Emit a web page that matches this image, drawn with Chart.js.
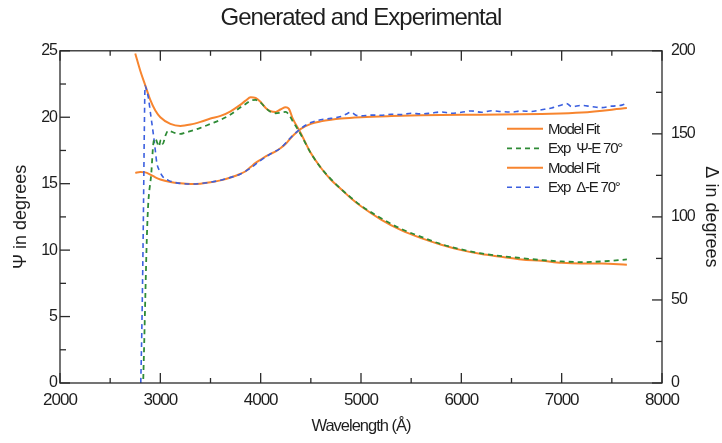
<!DOCTYPE html>
<html>
<head>
<meta charset="utf-8">
<script src="https://cdn.jsdelivr.net/npm/chart.js@4.4.0/dist/chart.umd.min.js"></script>
<style>
  html, body { margin: 0; padding: 0; background: #fff; }
</style>
</head>
<body>
<canvas id="graficoElipsometria" width="722" height="443"></canvas>
<script>
// ------------------------------------------------ DATOS ------------------------------------------------

    // Psi - modelo
    const psiFitWl = [2750, 2800, 2850, 2900, 2950, 3000, 3100, 3200, 3300, 3400, 3500, 3600, 3700, 3800, 3850,
        3900, 3950, 4000, 4050, 4100, 4150, 4200, 4250, 4280, 4320, 4400, 4500, 4600, 4700, 4800,
        4900, 5000, 5200, 5400, 5600, 5800, 6000, 6200, 6400, 6600, 6800, 7000, 7200, 7400, 7650];
    const psiFit = [24.8, 23.5, 22.4, 21.3, 20.5, 20.0, 19.5, 19.35, 19.45, 19.65, 19.9, 20.1, 20.45, 20.95, 21.25,
        21.5, 21.45, 21.15, 20.7, 20.45, 20.4, 20.6, 20.75, 20.65, 19.9, 18.8, 17.3, 16.2, 15.3, 14.6,
        13.9, 13.3, 12.3, 11.5, 10.9, 10.4, 10.0, 9.7, 9.5, 9.3, 9.2, 9.05, 9.0, 9.0, 8.9];

    // Psi - experimental
    const psiExpWl = [2830, 2840, 2852, 2865, 2878, 2910, 2930, 2950, 2968, 2985, 3005, 3025, 3050, 3080, 3100,
        3150, 3200, 3250, 3300, 3400, 3500, 3600, 3700, 3800, 3850, 3900, 3950, 4000, 4050, 4100,
        4150, 4200, 4250, 4280, 4320, 4400, 4500, 4600, 4700, 4800, 4900, 5000, 5200, 5400, 5600,
        5800, 6000, 6200, 6400, 6600, 6800, 7000, 7200, 7400, 7650];
    const psiExp = [0.3, 3.2, 7.0, 10.8, 13.3, 15.8, 18.0, 18.4, 18.1, 17.8, 18.3, 18.0, 18.6, 19.0, 18.95,
        18.8, 18.75, 18.85, 18.95, 19.2, 19.5, 19.8, 20.2, 20.75, 21.0, 21.25, 21.3, 21.1, 20.7, 20.4,
        20.3, 20.35, 20.4, 20.2, 19.7, 18.7, 17.3, 16.2, 15.35, 14.6, 13.95, 13.35, 12.4, 11.6, 11.0,
        10.45, 10.05, 9.75, 9.55, 9.4, 9.25, 9.15, 9.1, 9.15, 9.3];

    // Delta - modelo
    const deltaFitWl = [2750, 2800, 2850, 2900, 2950, 3000, 3100, 3200, 3300, 3400, 3500, 3600, 3700, 3800, 3850,
        3900, 3950, 4000, 4050, 4100, 4150, 4200, 4250, 4300, 4350, 4400, 4500, 4600, 4700, 4800,
        5000, 5300, 5600, 6000, 6400, 6800, 7200, 7650];
    const deltaFit = [126.5, 127, 126.8, 125.5, 123.8, 122.5, 121, 120.2, 119.8, 120.0, 120.8, 122.0, 123.7, 126, 127.5,
        130, 132.5, 134.5, 136.5, 138, 139.5, 141.5, 144, 147.5, 150.5, 153, 156, 157.5, 158.5, 159.2,
        160, 160.7, 161.2, 161.5, 161.6, 162.0, 162.8, 165.5];

    // Delta - experimental
    const deltaExpWl = [2805, 2815, 2825, 2833, 2840, 2848, 2860, 2880, 2905, 2930, 2950, 2965, 2990, 3027, 3080,
        3127, 3200, 3300, 3400, 3500, 3600, 3700, 3800, 3900, 4000, 4100, 4200, 4300, 4400, 4500,
        4600, 4700, 4800, 4850, 4900, 4950, 5000, 5100, 5200, 5300, 5400, 5500, 5600, 5700, 5800,
        5900, 6000, 6100, 6200, 6300, 6400, 6500, 6600, 6700, 6800, 6900, 7000, 7050, 7100, 7200,
        7300, 7400, 7500, 7600, 7650];
    const deltaExp = [0, 30, 70, 110, 150, 179, 177, 172, 161, 150, 140, 132.5, 128, 124, 122,
        121, 120.2, 119.8, 120.1, 120.9, 122.1, 123.8, 125.8, 129.5, 134, 138, 141.5, 147.8, 153.2, 156.8,
        158.5, 159.3, 160.4, 161.8, 163, 161.2, 160.8, 161.3, 161.2, 161.8, 161.6, 162.4, 162.0, 162.5, 163.2,
        162.4, 163, 163.8, 163, 163.9, 163.4, 163.1, 163.8, 163.5, 164.5, 165.6, 167.4, 168.2, 166.4, 167.1,
        166.4, 165.8, 166.7, 167.3, 168.5];

    const etiquetas = ['Model Fit', 'Exp  \u03A8-E 70\u00B0', 'Model Fit', 'Exp  \u0394-E 70\u00B0'];

    const naranja = '#f7852f';
    const verde = '#2e8b36';
    const azul = '#3b5fdf';
    const tinta = '#1e1e1e';

    const fuente = "'Liberation Sans', Arial, sans-serif";

    function puntos(xs, ys) {
        return xs.map((x, i) => ({ x: x, y: ys[i] }));
    }

// ------------------------------------------------ TEXTO APRETADO ------------------------------------------------

    // letra estrecha para todo, menos para los titulos de los ejes verticales
    const textoApretado = {
        id: 'textoApretado',
        afterUpdate(chart) {
            ['y', 'y2'].forEach(id => {
                const s = chart.scales[id];
                if (!s || s._tituloNormal) return;
                const original = s.drawTitle;
                s.drawTitle = function () {
                    const c = this.ctx;
                    const prev = c.letterSpacing;
                    c.letterSpacing = '0px';
                    original.call(this);
                    c.letterSpacing = prev;
                };
                s._tituloNormal = true;
            });
        },
        beforeDraw(chart) {
            chart.ctx.letterSpacing = '-1px';
        },
        afterDraw(chart) {
            chart.ctx.letterSpacing = '0px';
        }
    };

// ------------------------------------------------ MARCO Y MARCAS ------------------------------------------------

    const marcoEjes = {
        id: 'marcoEjes',
        afterDraw(chart) {
            const { ctx, chartArea: a, scales } = chart;
            ctx.save();
            ctx.strokeStyle = '#2a2a2a';
            ctx.lineWidth = 1.3;
            ctx.strokeRect(a.left, a.top, a.right - a.left, a.bottom - a.top);

            const raya = (x1, y1, x2, y2) => {
                ctx.beginPath();
                ctx.moveTo(x1, y1);
                ctx.lineTo(x2, y2);
                ctx.stroke();
            };

            // marcas del eje x (arriba y abajo), mayores y menores
            const tx = scales.x.ticks.map(t => t.value);
            tx.forEach((v, i) => {
                const px = scales.x.getPixelForValue(v);
                raya(px, a.bottom, px, a.bottom - 10);
                raya(px, a.top, px, a.top + 10);
                if (i < tx.length - 1) {
                    const pm = scales.x.getPixelForValue((v + tx[i + 1]) / 2);
                    raya(pm, a.bottom, pm, a.bottom - 5);
                    raya(pm, a.top, pm, a.top + 5);
                }
            });

            // marcas del eje izquierdo
            const ty = scales.y.ticks.map(t => t.value);
            ty.forEach((v, i) => {
                const py = scales.y.getPixelForValue(v);
                raya(a.left, py, a.left + 10, py);
                if (i < ty.length - 1) {
                    const pm = scales.y.getPixelForValue((v + ty[i + 1]) / 2);
                    raya(a.left, pm, a.left + 6, pm);
                }
            });

            // marcas del eje derecho
            const t2 = scales.y2.ticks.map(t => t.value);
            t2.forEach((v, i) => {
                const py = scales.y2.getPixelForValue(v);
                raya(a.right, py, a.right - 10, py);
                if (i < t2.length - 1) {
                    const pm = scales.y2.getPixelForValue((v + t2[i + 1]) / 2);
                    raya(a.right, pm, a.right - 6, pm);
                }
            });
            ctx.restore();
        }
    };

// ------------------------------------------------ LEYENDA ------------------------------------------------

    const leyendaInterna = {
        id: 'leyendaInterna',
        afterDatasetsDraw(chart) {
            const { ctx, chartArea: a } = chart;
            const x0 = a.right - 155;
            const y0 = a.top + 78;
            const paso = 19.5;
            ctx.save();
            ctx.font = '15px ' + fuente;
            ctx.letterSpacing = '-1.2px';
            ctx.textBaseline = 'middle';
            ctx.textAlign = 'left';
            chart.data.datasets.forEach((ds, i) => {
                const y = y0 + i * paso;
                ctx.strokeStyle = ds.borderColor;
                ctx.lineWidth = ds.borderWidth;
                ctx.setLineDash(ds.borderDash || []);
                ctx.beginPath();
                ctx.moveTo(x0, y);
                ctx.lineTo(x0 + 36, y);
                ctx.stroke();
                ctx.setLineDash([]);
                ctx.fillStyle = tinta;
                ctx.fillText(ds.label, x0 + 41, y + 1);
            });
            ctx.restore();
        }
    };

// ------------------------------------------------ GRAFICO ------------------------------------------------

    const configElipsometria = {
        type: 'line',
        data: {
            datasets: [{
                label: etiquetas[0],
                data: puntos(psiFitWl, psiFit),
                yAxisID: 'y',
                borderColor: naranja,
                borderWidth: 2,
                order: 2
            },
            {
                label: etiquetas[1],
                data: puntos(psiExpWl, psiExp),
                yAxisID: 'y',
                borderColor: verde,
                borderWidth: 1.8,
                borderDash: [5, 4],
                order: 1
            },
            {
                label: etiquetas[2],
                data: puntos(deltaFitWl, deltaFit),
                yAxisID: 'y2',
                borderColor: naranja,
                borderWidth: 2,
                order: 2
            },
            {
                label: etiquetas[3],
                data: puntos(deltaExpWl, deltaExp),
                yAxisID: 'y2',
                borderColor: azul,
                borderWidth: 1.6,
                borderDash: [5, 4],
                order: 1
            }]
        },
        options: {
            responsive: false,
            animation: false,
            events: [],
            layout: { padding: 0 },
            elements: {
                point: { radius: 0 },
                line: { cubicInterpolationMode: 'monotone', fill: false }
            },
            plugins: {
                legend: { display: false },
                tooltip: { enabled: false },
                title: {
                    display: true,
                    text: 'Generated and Experimental',
                    color: tinta,
                    font: { size: 24, family: fuente, weight: 'normal', lineHeight: 1.2 },
                    padding: { top: 4, bottom: 18 }
                }
            },
            scales: {
                x: {
                    type: 'linear',
                    position: 'bottom',
                    min: 2000,
                    max: 8000,
                    grid: { display: false, drawTicks: false },
                    border: { display: false },
                    ticks: {
                        stepSize: 1000,
                        padding: 7,
                        maxRotation: 0,
                        color: tinta,
                        font: { size: 17, family: fuente },
                        callback: v => String(v)
                    },
                    title: {
                        display: true,
                        text: 'Wavelength (\u00C5)',
                        color: tinta,
                        font: { size: 16.5, family: fuente },
                        padding: { top: 0, bottom: 7 }
                    },
                    afterFit: s => { s.height = 60; }
                },
                y: {
                    position: 'left',
                    min: 0,
                    max: 25,
                    grid: { display: false, drawTicks: false },
                    border: { display: false },
                    ticks: {
                        stepSize: 5,
                        padding: 3,
                        color: tinta,
                        font: { size: 16, family: fuente }
                    },
                    title: {
                        display: true,
                        text: '\u03A8 in degrees',
                        color: tinta,
                        font: { size: 18, family: fuente },
                        padding: { top: 10, bottom: 0 }
                    },
                    afterFit: s => { s.width = 60; }
                },
                y2: {
                    position: 'right',
                    min: 0,
                    max: 200,
                    grid: { display: false, drawTicks: false },
                    border: { display: false },
                    ticks: {
                        stepSize: 50,
                        padding: 9,
                        color: tinta,
                        font: { size: 16, family: fuente }
                    },
                    title: {
                        display: true,
                        text: '\u0394 in degrees',
                        color: tinta,
                        font: { size: 18, family: fuente },
                        padding: { top: 0, bottom: 0 }
                    },
                    afterFit: s => { s.width = 60; }
                }
            }
        },
        plugins: [textoApretado, marcoEjes, leyendaInterna]
    };

    var elipsometriaChart = new Chart(
        document.getElementById('graficoElipsometria'),
        configElipsometria
    );
</script>
</body>
</html>
